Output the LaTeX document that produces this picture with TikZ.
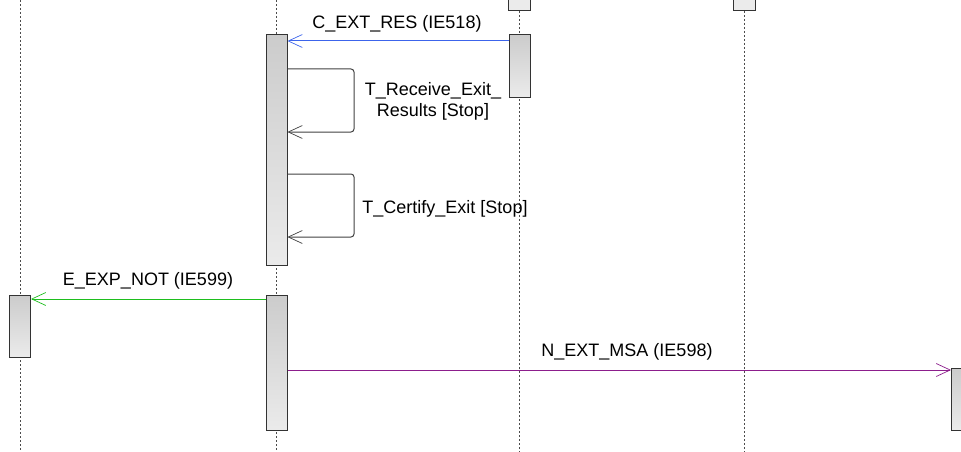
\documentclass[tikz,border=0pt]{standalone}
\usepackage{fontspec}
\setmainfont{Liberation Sans}
\usetikzlibrary{arrows.meta}
\definecolor{msgblue}{RGB}{60,100,235}
\definecolor{msggreen}{RGB}{30,190,30}
\definecolor{msgpurple}{RGB}{140,30,140}

\begin{document}
\begin{tikzpicture}[x=1pt,y=-1pt,
  act/.style={draw=black!80,line width=1pt,minimum width=21pt,inner sep=0pt,top color=black!20,bottom color=black!8},
  head/.style={draw=black!80,line width=1pt,minimum width=22pt,minimum height=21pt,inner sep=0pt,fill=black!8},
  life/.style={black!70,line width=0.9pt,dash pattern=on 2pt off 2pt},
  msg/.style={line width=1pt,-{Straight Barb[length=14pt,width=13pt,line width=0.7pt]}},
  lbl/.style={font=\fontsize{18}{21}\selectfont,align=center,inner sep=0pt}
]
  \useasboundingbox (0,0) rectangle (961,452);
  \clip (0,0) rectangle (961,452);

  % Lifelines
  \draw[life] (20,0) -- (20,452);
  \draw[life] (276.5,0) -- (276.5,452);
  \draw[life] (519,11) -- (519,452);
  \draw[life] (744,11) -- (744,452);

  % Heads cut at the top
  \node[head] (headres) at (519,0.5) {};
  \node[head] (headext) at (744,0.5) {};

  % Activations
  \node[act,minimum height=62pt] (appl) at (20,326) {};
  \node[act,minimum height=230pt] (ctlA) at (276.5,150) {};
  \node[act,minimum height=135pt] (ctlB) at (276.5,362.5) {};
  \node[act,minimum height=62pt] (res) at (519.5,66) {};
  \node[act,minimum height=62pt] (ext) at (962,399) {};

  % Messages
  \draw[msg,color=msgblue] (res.west |- 0,41) -- (ctlA.east |- 0,41);
  \node[lbl] (lres) at (397,24) {C\_EXT\_RES (IE518)};

  \draw[msg,color=msggreen] (ctlB.west |- 0,299) -- (appl.east |- 0,299);
  \node[lbl] (lexp) at (148,281) {E\_EXP\_NOT (IE599)};

  \draw[msg,color=msgpurple] (ctlB.east |- 0,370) -- (ext.west |- 0,370);
  \node[lbl] (lmsa) at (627,352) {N\_EXT\_MSA (IE598)};

  % Self messages
  \draw[msg,color=black!75,rounded corners=3pt] (ctlA.east |- 0,69) -| (354,132) -- (ctlA.east |- 0,132);
  \node[lbl] (lrec) at (433,101) {T\_Receive\_Exit\_\\Results [Stop]};

  \draw[msg,color=black!75,rounded corners=3pt] (ctlA.east |- 0,174) -| (354,237) -- (ctlA.east |- 0,237);
  \node[lbl] (lcert) at (445,209) {T\_Certify\_Exit [Stop]};
\end{tikzpicture}
\end{document}
